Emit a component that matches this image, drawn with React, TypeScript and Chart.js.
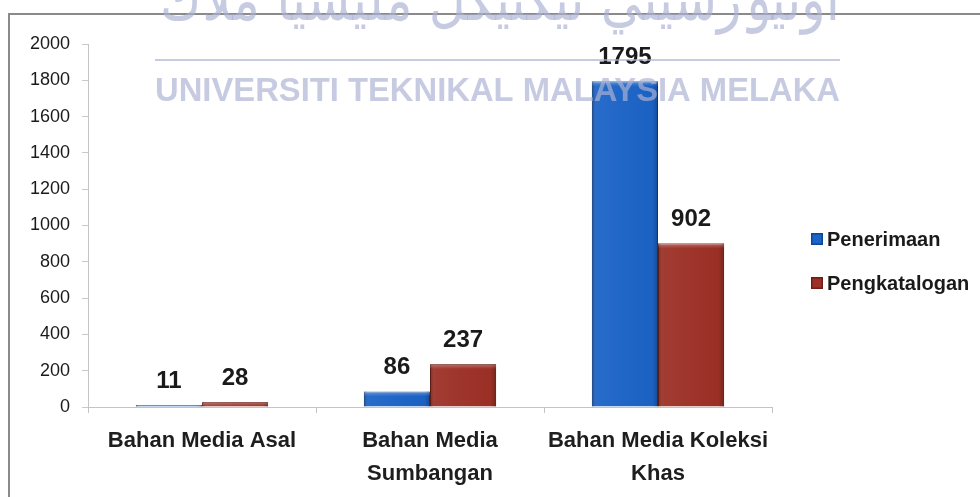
import React, { useEffect, useRef } from "react";
import { Chart, registerables } from "chart.js";

Chart.register(...registerables);

const categories: (string | string[])[] = [
  "Bahan Media Asal",
  ["Bahan Media", "Sumbangan"],
  ["Bahan Media Koleksi", "Khas"],
];
const seriesNames = ["Penerimaan", "Pengkatalogan"];
const penerimaan = [11, 86, 1795];
const pengkatalogan = [28, 237, 902];
const yMin = 0;
const yMax = 2000;
const yStep = 200;
const watermarkLatin = "UNIVERSITI TEKNIKAL MALAYSIA MELAKA";
const watermarkJawi = "اونيۏرسيتي تيكنيكل مليسيا ملاك";

const FONT = "'Liberation Sans', Arial, sans-serif";
const BLUE = "#1b63c6";
const BLUE_EDGE = "#0d4798";
const RED = "#9c3026";
const RED_EDGE = "#6e1d16";

const framePlugin = {
  id: "frame",
  beforeDraw(chart: any) {
    const ctx = chart.ctx;
    ctx.save();
    ctx.fillStyle = "#ffffff";
    ctx.fillRect(0, 0, chart.width, chart.height);
    ctx.strokeStyle = "#8a8a8a";
    ctx.lineWidth = 2;
    ctx.beginPath();
    ctx.moveTo(9, chart.height);
    ctx.lineTo(9, 14);
    ctx.lineTo(chart.width, 14);
    ctx.stroke();
    ctx.restore();
  },
};

const shadePlugin = {
  id: "shade",
  afterDatasetsDraw(chart: any) {
    const ctx = chart.ctx;
    ctx.save();
    chart.data.datasets.forEach((_: any, di: number) => {
      const meta = chart.getDatasetMeta(di);
      meta.data.forEach((el: any) => {
        const { x, y, base, width } = el.getProps(["x", "y", "base", "width"], true);
        const left = x - width / 2;
        const h = base - y;
        if (h <= 0) return;
        const g = ctx.createLinearGradient(left, 0, left + width, 0);
        g.addColorStop(0, "rgba(0,0,0,0.22)");
        g.addColorStop(0.08, "rgba(255,255,255,0.06)");
        g.addColorStop(0.5, "rgba(255,255,255,0.02)");
        g.addColorStop(0.92, "rgba(0,0,0,0.02)");
        g.addColorStop(1, "rgba(0,0,0,0.25)");
        ctx.fillStyle = g;
        ctx.fillRect(left, y, width, h);
        const bev = Math.min(5, h);
        const tg = ctx.createLinearGradient(0, y, 0, y + bev);
        tg.addColorStop(0, "rgba(255,255,255,0.30)");
        tg.addColorStop(1, "rgba(255,255,255,0)");
        ctx.fillStyle = tg;
        ctx.fillRect(left, y, width, bev);
      });
    });
    ctx.restore();
  },
};

const valueLabelPlugin = {
  id: "valueLabels",
  afterDatasetsDraw(chart: any) {
    const ctx = chart.ctx;
    ctx.save();
    ctx.font = `bold 24px ${FONT}`;
    ctx.fillStyle = "#1a1a1a";
    ctx.textAlign = "center";
    ctx.textBaseline = "alphabetic";
    chart.data.datasets.forEach((ds: any, di: number) => {
      const meta = chart.getDatasetMeta(di);
      meta.data.forEach((el: any, i: number) => {
        const { x, y } = el.getProps(["x", "y"], true);
        ctx.fillText(String(ds.data[i]), x, y - 17);
      });
    });
    ctx.restore();
  },
};

const legendPlugin = {
  id: "customLegend",
  afterDraw(chart: any) {
    const ctx = chart.ctx;
    ctx.save();
    const x0 = 811;
    const rows = [239, 283];
    chart.data.datasets.forEach((ds: any, i: number) => {
      const cy = rows[i];
      ctx.fillStyle = ds.backgroundColor;
      ctx.fillRect(x0, cy - 6, 12, 12);
      ctx.strokeStyle = ds.borderColor;
      ctx.lineWidth = 1.5;
      ctx.strokeRect(x0 + 0.75, cy - 5.25, 10.5, 10.5);
      ctx.font = `bold 20px ${FONT}`;
      ctx.fillStyle = "#1a1a1a";
      ctx.textAlign = "left";
      ctx.textBaseline = "middle";
      ctx.fillText(ds.label, x0 + 16, cy + 1);
    });
    ctx.restore();
  },
};

const watermarkPlugin = {
  id: "watermark",
  afterDraw(chart: any) {
    const ctx = chart.ctx;
    ctx.save();
    const col = "rgba(172,178,212,0.68)";
    ctx.fillStyle = col;
    ctx.strokeStyle = col;
    ctx.font = `bold 33px ${FONT}`;
    ctx.textAlign = "left";
    ctx.textBaseline = "alphabetic";
    const w = ctx.measureText(watermarkLatin).width;
    ctx.save();
    ctx.translate(155, 101);
    ctx.scale(685 / w, 1);
    ctx.fillText(watermarkLatin, 0, 0);
    ctx.restore();
    ctx.lineWidth = 2;
    ctx.beginPath();
    ctx.moveTo(155, 60);
    ctx.lineTo(840, 60);
    ctx.stroke();
    ctx.font = `60px 'DejaVu Sans', sans-serif`;
    const jw = ctx.measureText(watermarkJawi).width;
    ctx.save();
    ctx.translate(160, 20);
    ctx.scale(680 / jw, 1);
    ctx.textAlign = "left";
    ctx.fillText(watermarkJawi, 0, 0);
    ctx.restore();
    ctx.restore();
  },
};

export default function App() {
  const ref = useRef<HTMLCanvasElement | null>(null);
  useEffect(() => {
    if (!ref.current) return;
    const chart = new Chart(ref.current, {
      type: "bar",
      data: {
        labels: categories as any,
        datasets: [
          {
            label: seriesNames[0],
            data: penerimaan,
            backgroundColor: BLUE,
            borderColor: BLUE_EDGE,
            borderWidth: 1,
            categoryPercentage: 0.58,
            barPercentage: 1,
          },
          {
            label: seriesNames[1],
            data: pengkatalogan,
            backgroundColor: RED,
            borderColor: RED_EDGE,
            borderWidth: 1,
            categoryPercentage: 0.58,
            barPercentage: 1,
          },
        ],
      },
      options: {
        animation: false,
        responsive: false,
        maintainAspectRatio: false,
        layout: { padding: { left: 0, right: 208, top: 44, bottom: 0 } },
        plugins: {
          legend: { display: false },
          tooltip: { enabled: false },
        },
        scales: {
          x: {
            grid: {
              offset: true,
              drawOnChartArea: false,
              tickLength: 6,
              color: "#c4c4c4",
            },
            border: { color: "#c4c4c4" },
            ticks: {
              font: { family: FONT, size: 22, weight: "bold", lineHeight: 1.5 },
              color: "#1e1e1e",
              padding: 11,
              maxRotation: 0,
              autoSkip: false,
            },
            afterFit: (s: any) => {
              s.height = 90;
            },
          },
          y: {
            min: yMin,
            max: yMax,
            ticks: {
              stepSize: yStep,
              padding: 12,
              font: { family: FONT, size: 18 },
              color: "#1a1a1a",
              callback: (v: any) => String(v),
            },
            grid: {
              drawOnChartArea: false,
              tickLength: 6,
              color: "#c8c8c8",
            },
            border: { color: "#c4c4c4" },
            afterFit: (s: any) => {
              s.width = 88;
            },
          },
        },
      },
      plugins: [framePlugin, shadePlugin, valueLabelPlugin, legendPlugin, watermarkPlugin],
    } as any);
    return () => chart.destroy();
  }, []);
  return (
    <canvas
      ref={ref}
      width={980}
      height={497}
      style={{ position: "absolute", left: 0, top: 0, display: "block" }}
    />
  );
}
